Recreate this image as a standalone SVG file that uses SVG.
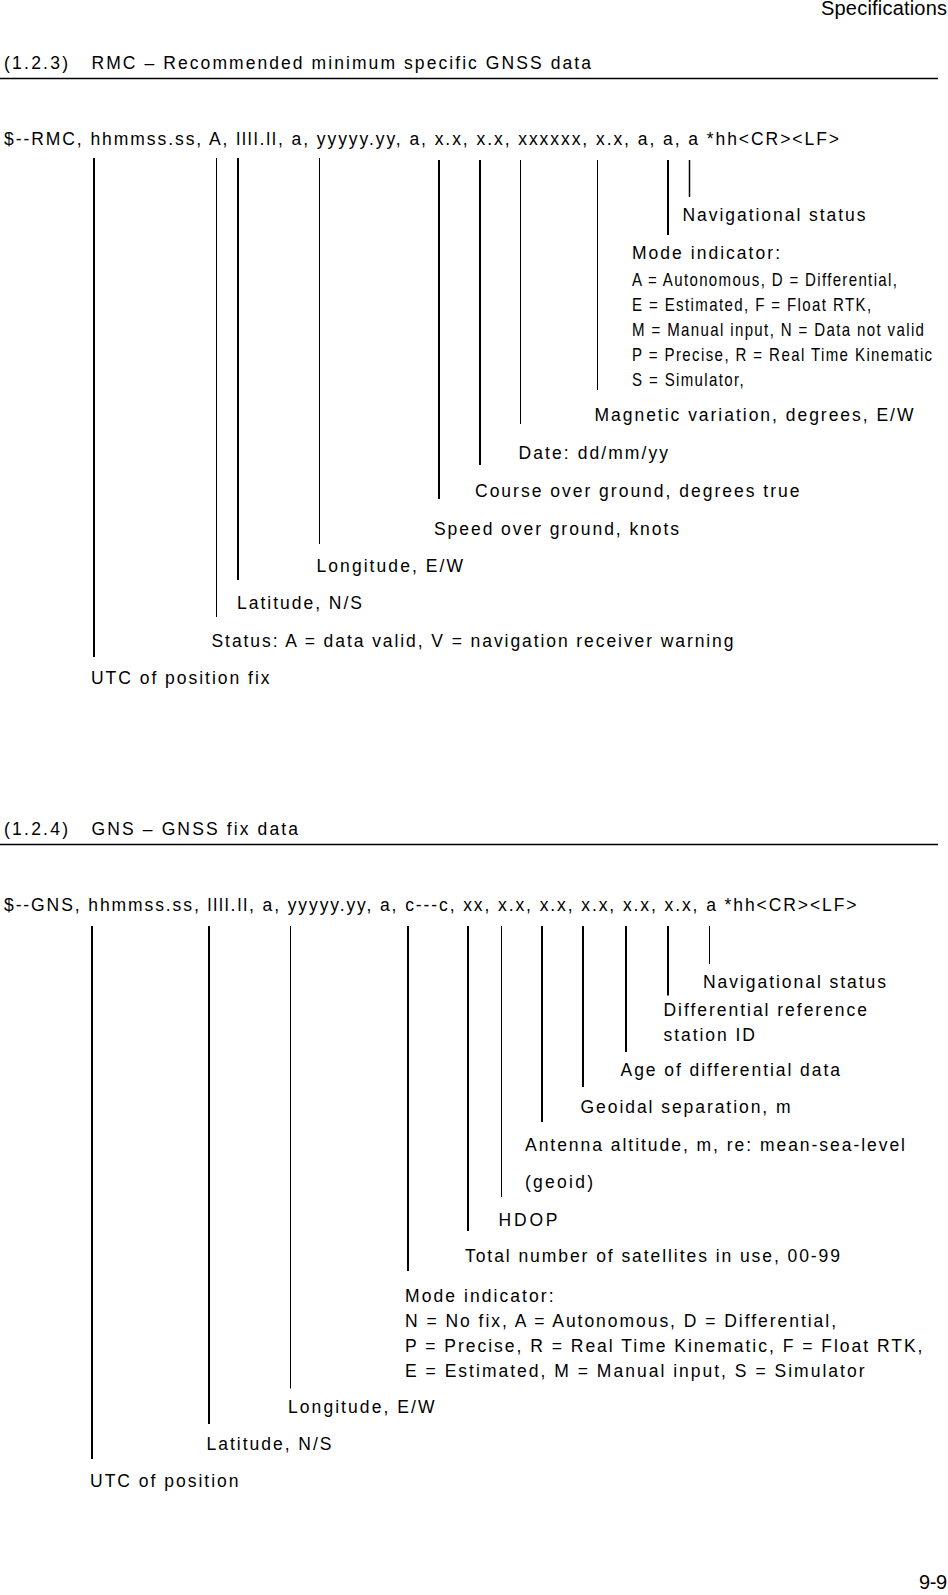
<svg xmlns="http://www.w3.org/2000/svg" width="948" height="1595" viewBox="0 0 948 1595">
<style>
.t{font-family:"Liberation Sans",Arial,sans-serif;font-size:17.5px;fill:#000}
.s{font-family:"Liberation Sans",Arial,sans-serif;font-size:17.5px;fill:#000}
.ti{font-family:"Liberation Sans",Arial,sans-serif;font-size:17.5px;fill:#000}
.h{font-family:"Liberation Sans",Arial,sans-serif;font-size:20px;fill:#000}
.n{font-family:"Liberation Sans",Arial,sans-serif;font-size:17.5px;fill:#000}
.k{stroke:#000;stroke-width:2;fill:none}
.f{stroke:#000;stroke-width:1;fill:none}
.m{stroke:#000;stroke-width:1.5;fill:none}
.r{stroke:#000;stroke-width:1.5}
</style>
<rect width="948" height="1595" fill="#fff"/>
<g id="page-header">
<text class="h" x="821" y="15" textLength="126" lengthAdjust="spacing">Specifications</text>
</g>
<g id="page-number">
<text class="h" x="919" y="1589" textLength="28" lengthAdjust="spacing">9-9</text>
</g>

<g id="rmc-title">
<text class="ti" x="4" y="69" textLength="64" lengthAdjust="spacing">(1.2.3)</text>
<text class="ti" x="91.5" y="69" textLength="499.5" lengthAdjust="spacing">RMC – Recommended minimum specific GNSS data</text>
<line class="r" x1="0" y1="78.5" x2="938" y2="78.5"/>
</g>
<g id="rmc-sentence">
<text class="s" x="4" y="145" textLength="835" lengthAdjust="spacing">$--RMC, hhmmss.ss, A, llll.ll, a, yyyyy.yy, a, x.x, x.x, xxxxxx, x.x, a, a, a *hh&lt;CR&gt;&lt;LF&gt;</text>
</g>
<g id="rmc-connectors">
<line class="k" x1="94" y1="158" x2="94" y2="657"/>
<line class="f" x1="216.5" y1="158" x2="216.5" y2="617"/>
<line class="k" x1="238" y1="158" x2="238" y2="580"/>
<line class="f" x1="319.5" y1="158" x2="319.5" y2="544"/>
<line class="k" x1="439" y1="160" x2="439" y2="499"/>
<line class="k" x1="480" y1="160" x2="480" y2="465"/>
<line class="f" x1="520.5" y1="160" x2="520.5" y2="424"/>
<line class="f" x1="597.5" y1="160" x2="597.5" y2="390"/>
<line class="k" x1="668" y1="160" x2="668" y2="235"/>
<line class="m" x1="689.5" y1="160" x2="689.5" y2="197"/>
</g>
<g id="rmc-nav-status"><text class="t" x="682.5" y="221" textLength="183" lengthAdjust="spacing">Navigational status</text></g>
<g id="rmc-mode-indicator">
<text class="t" x="632" y="259" textLength="148" lengthAdjust="spacing">Mode indicator:</text>
<text class="n" transform="translate(632 286) scale(0.86 1)" textLength="308" lengthAdjust="spacing">A = Autonomous, D = Differential,</text>
<text class="n" transform="translate(632 311) scale(0.86 1)" textLength="278" lengthAdjust="spacing">E = Estimated, F = Float RTK,</text>
<text class="n" transform="translate(632 336) scale(0.86 1)" textLength="339.5" lengthAdjust="spacing">M = Manual input, N = Data not valid</text>
<text class="n" transform="translate(632 361) scale(0.86 1)" textLength="349" lengthAdjust="spacing">P = Precise, R = Real Time Kinematic</text>
<text class="n" transform="translate(632 386) scale(0.86 1)" textLength="130" lengthAdjust="spacing">S = Simulator,</text>
</g>
<g id="rmc-magnetic"><text class="t" x="594.5" y="421" textLength="319" lengthAdjust="spacing">Magnetic variation, degrees, E/W</text></g>
<g id="rmc-date"><text class="t" x="518.5" y="459" textLength="149.5" lengthAdjust="spacing">Date: dd/mm/yy</text></g>
<g id="rmc-course"><text class="t" x="475" y="496.5" textLength="324.5" lengthAdjust="spacing">Course over ground, degrees true</text></g>
<g id="rmc-speed"><text class="t" x="434" y="534.5" textLength="245" lengthAdjust="spacing">Speed over ground, knots</text></g>
<g id="rmc-longitude"><text class="t" x="316.5" y="571.5" textLength="146.5" lengthAdjust="spacing">Longitude, E/W</text></g>
<g id="rmc-latitude"><text class="t" x="237" y="609" textLength="125" lengthAdjust="spacing">Latitude, N/S</text></g>
<g id="rmc-status"><text class="t" x="211.5" y="646.5" textLength="522" lengthAdjust="spacing">Status: A = data valid, V = navigation receiver warning</text></g>
<g id="rmc-utc"><text class="t" x="91" y="684" textLength="178.5" lengthAdjust="spacing">UTC of position fix</text></g>

<g id="gns-title">
<text class="ti" x="4" y="835" textLength="64" lengthAdjust="spacing">(1.2.4)</text>
<text class="ti" x="91.5" y="835" textLength="206.5" lengthAdjust="spacing">GNS – GNSS fix data</text>
<line class="r" x1="0" y1="844.5" x2="938" y2="844.5"/>
</g>
<g id="gns-sentence">
<text class="s" x="4" y="911" textLength="852.5" lengthAdjust="spacing">$--GNS, hhmmss.ss, llll.ll, a, yyyyy.yy, a, c---c, xx, x.x, x.x, x.x, x.x, x.x, a *hh&lt;CR&gt;&lt;LF&gt;</text>
</g>
<g id="gns-connectors">
<line class="k" x1="92" y1="926" x2="92" y2="1459"/>
<line class="k" x1="209" y1="926" x2="209" y2="1424"/>
<line class="f" x1="290.5" y1="926" x2="290.5" y2="1388.5"/>
<line class="k" x1="408" y1="926" x2="408" y2="1271"/>
<line class="k" x1="468" y1="926" x2="468" y2="1231"/>
<line class="f" x1="501.5" y1="926" x2="501.5" y2="1197"/>
<line class="k" x1="542" y1="926" x2="542" y2="1122"/>
<line class="k" x1="583" y1="926" x2="583" y2="1087"/>
<line class="k" x1="626" y1="926" x2="626" y2="1052"/>
<line class="k" x1="668" y1="926" x2="668" y2="995.5"/>
<line class="f" x1="709.5" y1="926" x2="709.5" y2="964"/>
</g>
<g id="gns-nav-status"><text class="t" x="703" y="988" textLength="183" lengthAdjust="spacing">Navigational status</text></g>
<g id="gns-diff-station">
<text class="t" x="663.5" y="1016" textLength="203.5" lengthAdjust="spacing">Differential reference</text>
<text class="t" x="663.5" y="1040.5" textLength="91.5" lengthAdjust="spacing">station ID</text>
</g>
<g id="gns-age"><text class="t" x="620.5" y="1076" textLength="219.5" lengthAdjust="spacing">Age of differential data</text></g>
<g id="gns-geoidal"><text class="t" x="580.5" y="1113" textLength="210" lengthAdjust="spacing">Geoidal separation, m</text></g>
<g id="gns-antenna">
<text class="t" x="525" y="1151" textLength="380" lengthAdjust="spacing">Antenna altitude, m, re: mean-sea-level</text>
<text class="t" x="525" y="1187.5" textLength="68" lengthAdjust="spacing">(geoid)</text>
</g>
<g id="gns-hdop"><text class="t" x="498.5" y="1226" textLength="59" lengthAdjust="spacing">HDOP</text></g>
<g id="gns-satellites"><text class="t" x="465" y="1262" textLength="375" lengthAdjust="spacing">Total number of satellites in use, 00-99</text></g>
<g id="gns-mode-indicator">
<text class="t" x="405" y="1301.5" textLength="148.5" lengthAdjust="spacing">Mode indicator:</text>
<text class="t" x="405" y="1327" textLength="431" lengthAdjust="spacing">N = No fix, A = Autonomous, D = Differential,</text>
<text class="t" x="405" y="1351.5" textLength="517.5" lengthAdjust="spacing">P = Precise, R = Real Time Kinematic, F = Float RTK,</text>
<text class="t" x="405" y="1376.5" textLength="459.5" lengthAdjust="spacing">E = Estimated, M = Manual input, S = Simulator</text>
</g>
<g id="gns-longitude"><text class="t" x="288" y="1412.5" textLength="146.5" lengthAdjust="spacing">Longitude, E/W</text></g>
<g id="gns-latitude"><text class="t" x="206.5" y="1450" textLength="125" lengthAdjust="spacing">Latitude, N/S</text></g>
<g id="gns-utc"><text class="t" x="90" y="1486.5" textLength="148.5" lengthAdjust="spacing">UTC of position</text></g>
</svg>
